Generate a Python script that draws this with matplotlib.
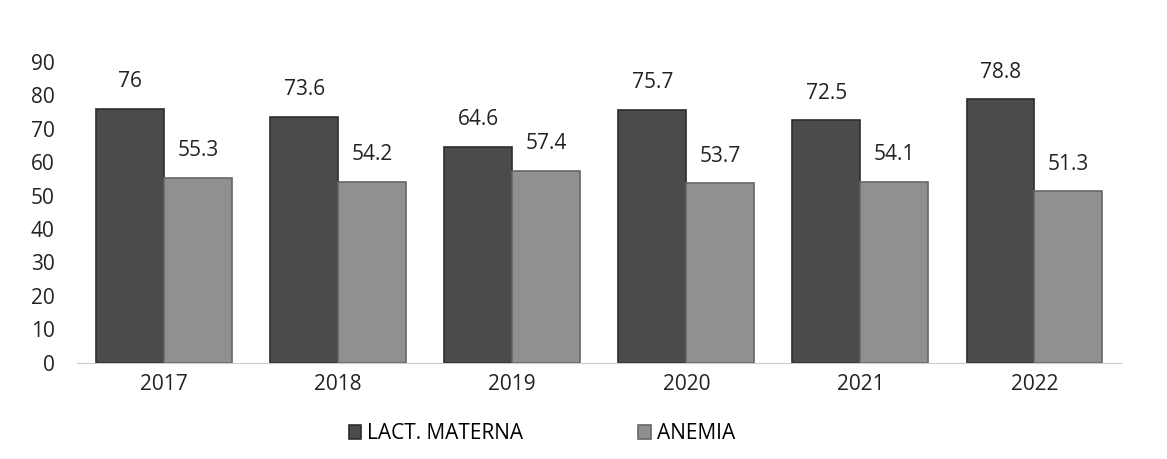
import numpy as np
import matplotlib.pyplot as plt

years = ["2017", "2018", "2019", "2020", "2021", "2022"]
lact_materna = [76, 73.6, 64.6, 75.7, 72.5, 78.8]
anemia = [55.3, 54.2, 57.4, 53.7, 54.1, 51.3]

plt.rcParams["font.family"] = ["Open Sans", "DejaVu Sans"]

fig = plt.figure(figsize=(11.67, 4.59), dpi=100)
ax = fig.add_axes([0.066, 0.21, 0.895, 0.655])

x = np.arange(len(years))
w = 0.39
b1 = ax.bar(x - w / 2, lact_materna, w, color="#4b4b4b", edgecolor="#2e2e2e",
            linewidth=1.2, label="LACT. MATERNA")
b2 = ax.bar(x + w / 2, anemia, w, color="#909090", edgecolor="#666666",
            linewidth=1.2, label="ANEMIA")

for bars, vals in ((b1, lact_materna), (b2, anemia)):
    for r, v in zip(bars, vals):
        ax.annotate(f"{v:g}", (r.get_x() + r.get_width() / 2, v),
                    xytext=(0, 12), textcoords="offset points",
                    ha="center", va="bottom", fontsize=15, color="#222222",
                    annotation_clip=False)

ax.set_xlim(-0.5, 5.5)
ax.set_ylim(0, 90)
ax.set_yticks(range(0, 91, 10))
ax.set_xticks(x)
ax.set_xticklabels(years)
ax.tick_params(length=0, labelsize=15, colors="#222222")
ax.tick_params(axis="x", pad=8)
ax.tick_params(axis="y", pad=16)
for s in ["top", "right", "left"]:
    ax.spines[s].set_visible(False)
ax.spines["bottom"].set_color("#cccccc")

ax.legend(loc="upper center", bbox_to_anchor=(0.445, -0.14), ncol=2, frameon=False,
          fontsize=15, handlelength=0.6, handleheight=0.6, handletextpad=0.3,
          columnspacing=5.5)

fig.savefig("out.png", dpi=100, facecolor="white")
